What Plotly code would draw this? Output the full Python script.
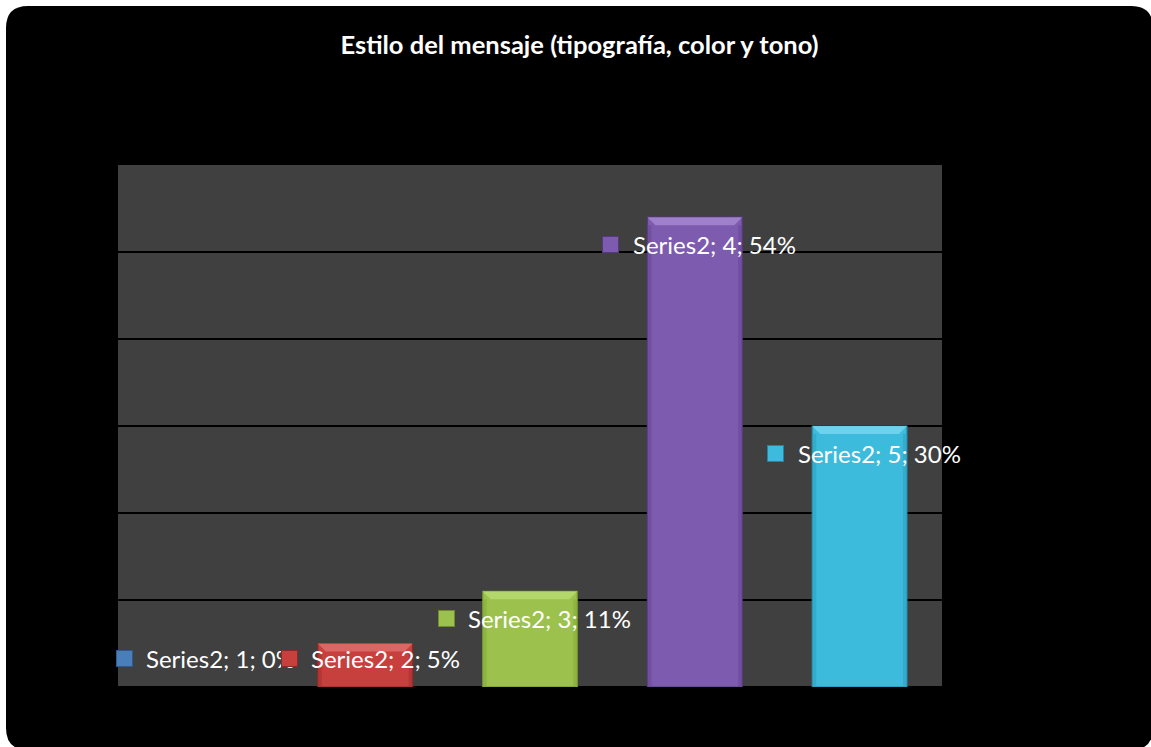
import plotly.graph_objects as go

# Chart data
categories = [1, 2, 3, 4, 5]
values = [0, 5, 11, 54, 30]
series_name = "Series2"
bar_colors = ["#4A7EBB", "#C8403E", "#9CC24D", "#7D5BAE", "#3DBBDD"]
edge_colors = ["#2C5A8F", "#8E2826", "#6E8C2E", "#553A80", "#2287A3"]
top_colors = ["#7FA6D6", "#DE6E6C", "#B9DA72", "#A487D0", "#74D6F0"]
side_colors = ["#3D6BA3", "#A8302E", "#86AA3A", "#6A4896", "#2EA3C2"]
title_text = "Estilo del mensaje (tipografía, color y tono)"

W, H = 1151, 747
ML, MR, MT, MB = 118, 209, 165, 60
PW, PH = W - ML - MR, H - MT - MB
Y_MAX = 60
BAR_W = 0.575
FONT = "Lato, Carlito, sans-serif"

fig = go.Figure()
fig.add_trace(go.Bar(
    x=categories, y=values,
    marker=dict(color=bar_colors,
                line=dict(color=edge_colors,
                          width=[0 if v == 0 else 1.2 for v in values])),
    width=BAR_W, hoverinfo="skip", showlegend=False,
))


def px_x(px):
    return (px - ML) / PW


def px_y(py):
    return (H - MB - py) / PH


# Rounded black card behind everything
x0, y0, x1, y1, r = px_x(6), px_y(6), px_x(1153), px_y(750), 22 / PW
ry = 22 / PH
path = (
    f"M {x0 + r},{y0} L {x1 - r},{y0} Q {x1},{y0} {x1},{y0 - ry} "
    f"L {x1},{y1 + ry} Q {x1},{y1} {x1 - r},{y1} "
    f"L {x0 + r},{y1} Q {x0},{y1} {x0},{y1 + ry} "
    f"L {x0},{y0 - ry} Q {x0},{y0} {x0 + r},{y0} Z"
)
fig.add_shape(type="path", path=path, xref="paper", yref="paper",
              fillcolor="#000000", line=dict(width=0), layer="below")
# Dark grey plotting area on top of the card
fig.add_shape(type="rect", x0=0, x1=1, y0=0, y1=1, xref="paper", yref="paper",
              fillcolor="#404040", line=dict(width=0), layer="below")

# Bevelled bar edges (top face and side strips), derived from each bar's value
px_per_unit = PH / Y_MAX
cat_px = PW / len(categories)
bev_x = 8 / cat_px
bev_y = 8 / px_per_unit
for cat, val, top, side in zip(categories, values, top_colors, side_colors):
    if val <= 0:
        continue
    xl, xr = cat - BAR_W / 2, cat + BAR_W / 2
    t = min(bev_y, val / 2)
    fig.add_shape(
        type="path", xref="x", yref="y", layer="above",
        path=f"M {xl},{val} L {xr},{val} L {xr - bev_x},{val - t} "
             f"L {xl + bev_x},{val - t} Z",
        fillcolor=top, line=dict(width=0), opacity=0.85,
    )
    for a, b in ((xl, xl + bev_x * 0.5), (xr - bev_x * 0.5, xr)):
        fig.add_shape(
            type="rect", xref="x", yref="y", layer="above",
            x0=a, x1=b, y0=0, y1=val - t,
            fillcolor=side, line=dict(width=0), opacity=0.6,
        )

# Data labels: coloured key square followed by "Series2; n; v%",
# the whole label centred over its bar
label_font = dict(family=FONT, size=24, color="#FFFFFF")
annotations = []
for cat, val, col, edge in zip(categories, values, bar_colors, edge_colors):
    y_lab = max(val - 27 / px_per_unit, 29 / px_per_unit)
    text = f"{series_name}; {cat}; {val}%"
    centre_adj = (15 - len(text)) * 8
    annotations.append(dict(
        x=cat, y=y_lab, xref="x", yref="y", text=" ", showarrow=False,
        width=15, height=15, bgcolor=col, bordercolor=edge, borderwidth=1,
        borderpad=0, xshift=-84 + centre_adj, font=dict(size=4),
    ))
    annotations.append(dict(
        x=cat, y=y_lab, xref="x", yref="y", text=text, showarrow=False,
        xanchor="left", xshift=-64 + centre_adj, font=label_font,
    ))

fig.update_layout(
    width=W, height=H,
    margin=dict(l=ML, r=MR, t=MT, b=MB, pad=0),
    paper_bgcolor="#FFFFFF",
    plot_bgcolor="rgba(0,0,0,0)",
    title=dict(text=f"<b>{title_text}</b>", x=579.5 / W, xanchor="center",
               y=1 - 45 / H, yanchor="middle",
               font=dict(family=FONT, size=25.5, color="#FFFFFF")),
    xaxis=dict(range=[0.5, 5.5], showticklabels=False, showgrid=False,
               zeroline=False, ticks="", fixedrange=True),
    yaxis=dict(range=[0, Y_MAX], dtick=10, showticklabels=False,
               showgrid=True, gridcolor="#000000", gridwidth=1.5,
               zeroline=True, zerolinecolor="#000000", zerolinewidth=1.5,
               ticks="", fixedrange=True),
    annotations=annotations,
)

fig.write_html("out.html")
